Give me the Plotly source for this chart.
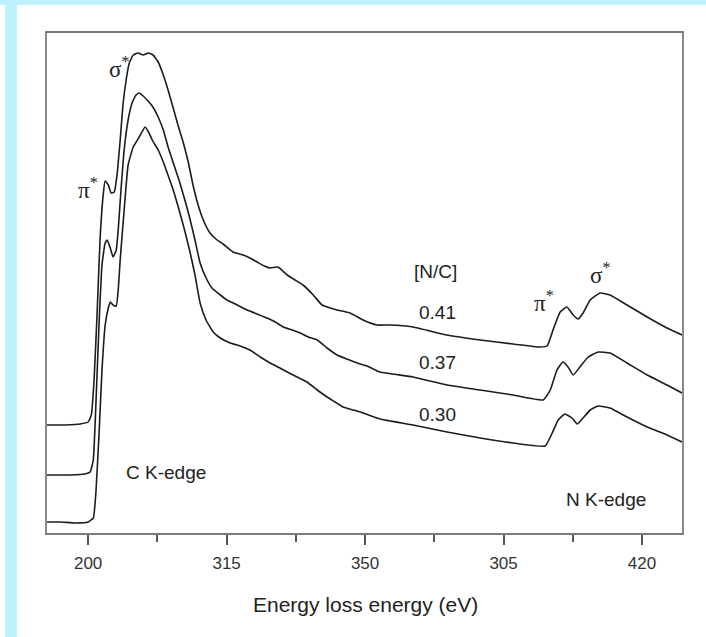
import plotly.graph_objects as go

# ---- data (energy in eV-scale of the axis, intensity in arb. units)
energy_041 = [269.6, 274.2, 278.0, 280.0, 280.8, 281.5, 282.3, 283.0, 283.8, 284.3, 285.1, 285.8, 286.6,
              287.3, 288.1, 288.8, 289.6, 290.4, 291.4, 292.6, 293.9, 295.2, 296.4, 297.7, 299.0, 300.2,
              301.5, 302.7, 304.0, 305.3, 306.5, 307.8, 309.1, 310.8, 312.6, 314.1, 316.6, 319.2, 320.9,
              322.7, 324.5, 326.0, 328.0, 330.3, 332.3, 334.3, 336.9, 339.1, 341.2, 342.9, 346.2, 349.5,
              353.0, 356.3, 362.1, 370.7, 379.1, 387.4, 394.2, 396.0, 397.5, 399.3, 401.0, 402.6, 403.8,
              405.1, 406.9, 409.4, 411.9, 416.2, 421.3, 426.3, 430.1]
intensity_041 = [1.08, 1.08, 1.09, 1.11, 1.18, 1.53, 2.23, 2.93, 3.38, 3.52, 3.48, 3.40, 3.41,
                 3.58, 3.93, 4.28, 4.53, 4.70, 4.78, 4.80, 4.78, 4.80, 4.78, 4.71, 4.58, 4.43,
                 4.25, 4.08, 3.91, 3.71, 3.48, 3.28, 3.13, 3.00, 2.93, 2.89, 2.81, 2.78, 2.75,
                 2.71, 2.67, 2.65, 2.66, 2.58, 2.53, 2.48, 2.38, 2.28, 2.25, 2.23, 2.20, 2.13,
                 2.08, 2.08, 2.06, 1.98, 1.93, 1.89, 1.86, 1.87, 2.03, 2.21, 2.26, 2.18, 2.14,
                 2.20, 2.33, 2.40, 2.38, 2.28, 2.16, 2.05, 1.98]

energy_037 = [269.6, 275.5, 279.2, 280.5, 281.3, 282.0, 282.8, 283.5, 284.3, 284.8, 285.6, 286.3, 287.1,
              287.6, 288.3, 289.1, 290.1, 291.1, 292.1, 292.9, 293.9, 294.9, 296.2, 297.7, 299.0, 300.2,
              301.7, 303.2, 304.8, 305.8, 307.0, 308.3, 309.8, 311.3, 313.4, 315.1, 317.7, 320.2, 322.7,
              325.2, 327.3, 329.3, 331.6, 333.6, 335.6, 337.9, 340.4, 342.9, 345.4, 348.0, 350.5, 353.8,
              362.1, 370.7, 379.1, 387.4, 395.0, 396.8, 398.5, 400.0, 401.3, 402.6, 404.3, 406.4, 408.9,
              411.9, 416.2, 421.3, 426.3, 430.1]
intensity_037 = [0.58, 0.58, 0.59, 0.61, 0.73, 1.33, 2.13, 2.68, 2.90, 2.93, 2.85, 2.76, 2.83,
                 3.03, 3.43, 3.83, 4.13, 4.30, 4.38, 4.40, 4.37, 4.33, 4.27, 4.16, 4.03, 3.86,
                 3.68, 3.50, 3.28, 3.13, 2.93, 2.70, 2.55, 2.45, 2.38, 2.33, 2.28, 2.23, 2.19,
                 2.15, 2.11, 2.06, 2.03, 2.00, 1.96, 1.93, 1.85, 1.78, 1.74, 1.70, 1.67, 1.61,
                 1.56, 1.48, 1.43, 1.38, 1.33, 1.43, 1.63, 1.71, 1.66, 1.58, 1.66, 1.76, 1.81,
                 1.80, 1.70, 1.58, 1.48, 1.40]

energy_030 = [269.6, 272.9, 276.7, 280.0, 281.3, 282.0, 282.8, 283.5, 284.3, 285.1, 285.6, 286.3, 287.1,
              287.6, 288.1, 289.1, 290.1, 291.4, 292.9, 294.4, 295.4, 296.2, 297.7, 299.0, 300.0, 301.5,
              303.2, 304.5, 305.8, 307.0, 308.3, 309.8, 311.6, 313.4, 315.9, 318.4, 320.9, 323.5, 326.0,
              328.5, 330.3, 332.8, 335.3, 337.9, 340.4, 342.4, 344.4, 347.0, 349.5, 353.8, 362.1, 370.7,
              379.1, 387.4, 395.5, 397.3, 398.8, 400.5, 402.3, 403.6, 405.1, 406.9, 408.9, 411.9, 416.2,
              421.3, 426.3, 430.1]
intensity_030 = [0.11, 0.11, 0.10, 0.11, 0.15, 0.43, 1.03, 1.63, 2.08, 2.25, 2.31, 2.28, 2.27,
                 2.43, 2.73, 3.23, 3.68, 3.86, 3.96, 4.06, 4.00, 3.93, 3.83, 3.71, 3.60, 3.43,
                 3.20, 3.01, 2.80, 2.58, 2.30, 2.13, 2.01, 1.95, 1.90, 1.87, 1.83, 1.76, 1.70,
                 1.65, 1.61, 1.56, 1.51, 1.43, 1.36, 1.31, 1.26, 1.23, 1.20, 1.14, 1.08, 1.01,
                 0.95, 0.90, 0.87, 1.00, 1.13, 1.19, 1.15, 1.09, 1.15, 1.23, 1.27, 1.25, 1.16,
                 1.06, 0.98, 0.91]

series_names = ["0.41", "0.37", "0.30"]
tick_values = [280, 315, 350, 385, 420]
tick_labels = ["200", "315", "350", "305", "420"]
minor_tick_values = [297.5, 332.5, 367.5, 402.5]

# ---- figure
fig = go.Figure()
for e, i, n in [(energy_041, intensity_041, series_names[0]),
                (energy_037, intensity_037, series_names[1]),
                (energy_030, intensity_030, series_names[2])]:
    fig.add_trace(go.Scatter(x=e, y=i, mode="lines", name=n,
                             line=dict(color="#1c1c1c", width=1.6, shape="spline", smoothing=0.4),
                             showlegend=False, hoverinfo="skip"))

text_font = dict(family="Liberation Sans, Arial, sans-serif", size=19, color="#222222")
greek_font = dict(family="Liberation Serif, Times New Roman, serif", size=23, color="#222222")

annotations = [
    dict(x=299.7, y=0.61, text="C K-edge", font=text_font),
    dict(x=410.9, y=0.34, text="N K-edge", font=text_font),
    dict(x=367.7, y=2.62, text="[N/C]", font=text_font),
    dict(x=368.4, y=2.21, text=series_names[0], font=text_font),
    dict(x=368.4, y=1.71, text=series_names[1], font=text_font),
    dict(x=368.4, y=1.19, text=series_names[2], font=text_font),
    dict(x=279.0, y=3.45, text="π<sup>*</sup>", font=greek_font, xanchor="left", xshift=-8),
    dict(x=286.8, y=4.66, text="σ<sup>*</sup>", font=greek_font, xanchor="left", xshift=-8),
    dict(x=394.2, y=2.32, text="π<sup>*</sup>", font=greek_font, xanchor="left", xshift=-8),
    dict(x=408.4, y=2.60, text="σ<sup>*</sup>", font=greek_font, xanchor="left", xshift=-8),
]
for a in annotations:
    a.setdefault("xanchor", "center")
    a.update(xref="x", yref="y", showarrow=False, yanchor="middle")

annotations.append(dict(xref="paper", yref="paper", x=0.502, y=-0.143, showarrow=False,
                        text="Energy loss energy (eV)", xanchor="center", yanchor="middle",
                        font=dict(family="Liberation Sans, Arial, sans-serif", size=21, color="#222222")))

band = "#BFF0FE"
shapes = [
    dict(type="rect", xref="paper", yref="paper", x0=-0.08, x1=1.05, y0=1.056, y1=1.07,
         fillcolor=band, line=dict(width=0), layer="below"),
    dict(type="rect", xref="paper", yref="paper", x0=-0.0661, x1=-0.0472, y0=-0.21, y1=1.06,
         fillcolor=band, line=dict(width=0), layer="below"),
]

fig.update_layout(
    width=706, height=637,
    margin=dict(l=47, r=24, t=33, b=104),
    paper_bgcolor="white", plot_bgcolor="white",
    annotations=annotations, shapes=shapes,
    xaxis=dict(range=[269.6, 430.1], showgrid=False, zeroline=False,
               showline=True, linecolor="#7a7a7a", linewidth=2, mirror=True,
               ticks="outside", ticklen=10, tickwidth=1.5, tickcolor="#555555",
               tickvals=tick_values, ticktext=tick_labels, ticklabelstandoff=4,
               tickfont=dict(family="Liberation Sans, Arial, sans-serif", size=17, color="#333333"),
               minor=dict(tickvals=minor_tick_values, ticks="outside", ticklen=7,
                          tickwidth=1.5, tickcolor="#555555", showgrid=False)),
    yaxis=dict(range=[0, 5.0], showgrid=False, zeroline=False, showticklabels=False,
               showline=True, linecolor="#8a8a8a", linewidth=2, mirror=True, ticks=""),
)

fig.write_html("out.html")
